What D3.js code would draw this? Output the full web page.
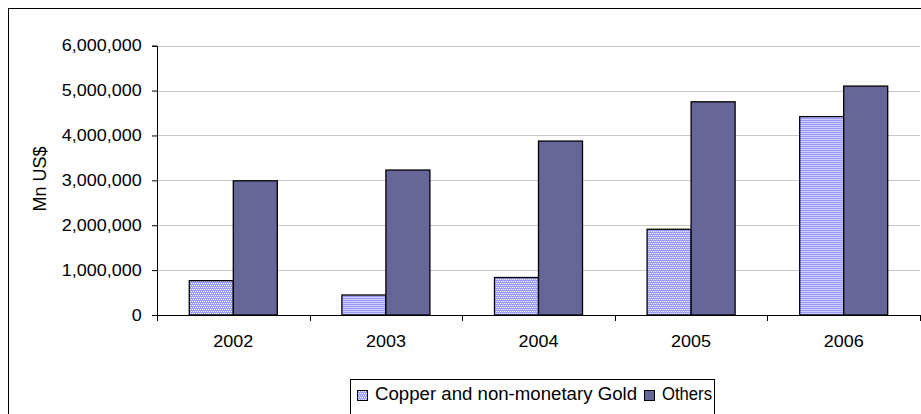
<!DOCTYPE html>
<html>
<head>
<meta charset="utf-8">
<script src="https://cdn.jsdelivr.net/npm/d3@7/dist/d3.min.js"></script>
<style>
  html, body { margin: 0; padding: 0; background: #fff; }
  svg { display: block; font-family: Arial, "Liberation Sans", sans-serif; }
</style>
</head>
<body>
<svg id="chart" width="921" height="414"></svg>
<script>
// Exports by year, Mn US$
const years = ["2002", "2003", "2004", "2005", "2006"];
const seriesNames = ["Copper and non-monetary Gold", "Others"];
const copperGold = [765000, 445000, 835000, 1910000, 4420000];
const others = [2990000, 3230000, 3875000, 4750000, 5100000];
const yTicks = [0, 1000000, 2000000, 3000000, 4000000, 5000000, 6000000];

const seriesValues = [copperGold, others];
const rows = years.map((y, i) => ({ year: y, values: seriesNames.map((s, k) => ({ series: s, value: seriesValues[k][i] })) }));

const svg = d3.select("#chart");
const plot = { left: 157, right: 920, top: 45.7, bottom: 315 };
const wide = 1.09;   // horizontal text stretch

// Copper bars: fine blue/white check pattern
const defs = svg.append("defs");
const pat = defs.append("pattern")
  .attr("id", "copperPattern")
  .attr("patternUnits", "userSpaceOnUse")
  .attr("width", 2).attr("height", 4);
pat.append("rect").attr("width", 2).attr("height", 4).attr("fill", "#ffffff");
pat.append("rect").attr("x", 0).attr("y", 0).attr("width", 1).attr("height", 3).attr("fill", "#9999ff");
pat.append("rect").attr("x", 1).attr("y", 2).attr("width", 1).attr("height", 2).attr("fill", "#9999ff");
pat.append("rect").attr("x", 1).attr("y", 0).attr("width", 1).attr("height", 1).attr("fill", "#9999ff");

const fills = { "Copper and non-monetary Gold": "url(#copperPattern)", "Others": "#666699" };

// Outer chart frame (runs off the right and bottom edges)
svg.append("rect")
  .attr("x", 8.5).attr("y", 8.5)
  .attr("width", 1000).attr("height", 500)
  .attr("fill", "none").attr("stroke", "#000").attr("stroke-width", 1);

const x0 = d3.scaleBand().domain(years).range([plot.left, plot.right]).paddingInner(0).paddingOuter(0);
const x1 = d3.scaleBand().domain(seriesNames).range([0, x0.bandwidth()]).paddingInner(0).paddingOuter(0.734);
const y = d3.scaleLinear().domain([0, 6000000]).range([plot.bottom, plot.top]);

// Horizontal gridlines
svg.append("g")
  .selectAll("line")
  .data(yTicks.filter(t => t > 0))
  .join("line")
  .attr("x1", plot.left).attr("x2", plot.right)
  .attr("y1", d => Math.round(y(d)) + 0.5).attr("y2", d => Math.round(y(d)) + 0.5)
  .attr("stroke", "#c8c8c8").attr("stroke-width", 1.2);

// Bars
svg.append("g")
  .selectAll("g")
  .data(rows)
  .join("g")
  .attr("transform", d => `translate(${x0(d.year)},0)`)
  .selectAll("rect")
  .data(d => d.values)
  .join("rect")
  .attr("x", d => x1(d.series))
  .attr("y", d => y(d.value))
  .attr("width", x1.bandwidth())
  .attr("height", d => y(0) - y(d.value))
  .attr("fill", d => fills[d.series])
  .attr("stroke", "#000")
  .attr("stroke-width", 1.3);

// Y axis
const yAxis = d3.axisLeft(y)
  .tickValues(yTicks)
  .tickSize(5)
  .tickPadding(9)
  .tickFormat(d3.format(",.0f"));
const gy = svg.append("g").attr("transform", `translate(${plot.left},0)`).call(yAxis);
gy.select(".domain").attr("stroke", "#000");
gy.selectAll(".tick line").attr("stroke", "#000");
gy.selectAll("text")
  .attr("font-size", 16.5).attr("fill", "#000")
  .attr("font-family", "Arial, 'Liberation Sans', sans-serif")
  .attr("transform", `scale(${wide},1)`);

// X axis: ticks sit on category boundaries
const gx = svg.append("g").attr("transform", `translate(0,${plot.bottom})`);
gx.append("line")
  .attr("x1", plot.left).attr("x2", plot.right)
  .attr("y1", 0.5).attr("y2", 0.5)
  .attr("stroke", "#000");
const bounds = years.map(d => x0(d)).concat([x0(years[years.length - 1]) + x0.bandwidth()]);
gx.selectAll("line.tick")
  .data(bounds)
  .join("line")
  .attr("class", "tick")
  .attr("x1", d => Math.round(d) + 0.5).attr("x2", d => Math.round(d) + 0.5)
  .attr("y1", 0).attr("y2", 6)
  .attr("stroke", "#000");
gx.selectAll("text")
  .data(years)
  .join("text")
  .attr("transform", d => `translate(${x0(d) + x0.bandwidth() / 2},32.3) scale(${wide},1)`)
  .attr("text-anchor", "middle")
  .attr("font-size", 16.5)
  .attr("fill", "#000")
  .text(d => d);

// Y axis title
svg.append("text")
  .attr("transform", `translate(45.5,179) rotate(-90)`)
  .attr("text-anchor", "middle")
  .attr("font-size", 18)
  .attr("fill", "#000")
  .text("Mn US$");

// Legend: swatch + label per series, labels fitted to their slots
const legendSlots = [262, 50];
const legend = svg.append("g");
legend.append("rect")
  .attr("x", 350.5).attr("y", 379.5)
  .attr("width", 364).attr("height", 50)
  .attr("fill", "#fff").attr("stroke", "#000");
let lx = 357;
seriesNames.forEach((name, i) => {
  const item = legend.append("g").attr("transform", `translate(${lx},0)`);
  item.append("rect")
    .attr("x", 0.5).attr("y", 390.5)
    .attr("width", 10).attr("height", 10)
    .attr("fill", fills[name]).attr("stroke", "#000");
  item.append("text")
    .attr("x", 18).attr("y", 400)
    .attr("font-size", 17.5)
    .attr("fill", "#000")
    .attr("textLength", legendSlots[i])
    .attr("lengthAdjust", "spacingAndGlyphs")
    .text(name);
  lx += 18 + legendSlots[i] + 7;
});
</script>
</body>
</html>
